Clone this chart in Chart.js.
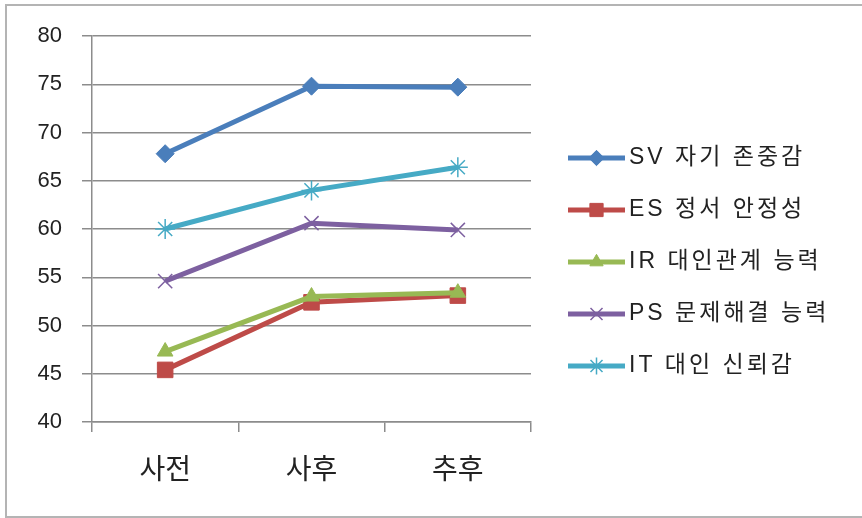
<!DOCTYPE html>
<html>
<head>
<meta charset="utf-8">
<script src="https://cdn.jsdelivr.net/npm/chart.js@4/dist/chart.umd.min.js"></script>
<style>
  html, body { margin: 0; padding: 0; background: #ffffff; overflow: hidden; }
  #wrap { width: 862px; height: 518px; position: relative; }
  canvas { display: block; }
</style>
</head>
<body>
<div id="wrap"><canvas id="c" width="862" height="518"></canvas></div>
<script>
// Measurement points
const categories = ['사전', '사후', '추후'];

// Series labels
const seriesNames = ['SV 자기 존중감', 'ES 정서 안정성', 'IR 대인관계 능력', 'PS 문제해결 능력', 'IT 대인 신뢰감'];

// Mean scores per series
const svValues = [67.8, 74.8, 74.7];
const esValues = [45.4, 52.4, 53.1];
const irValues = [47.3, 53.0, 53.4];
const psValues = [54.6, 60.6, 59.9];
const itValues = [60.0, 64.0, 66.4];

// Value axis range
const yMin = 40;
const yMax = 80;
const yStep = 5;

const seriesValues = [svValues, esValues, irValues, psValues, itValues];
const seriesColors = ['#4a7ebb', '#be4b48', '#98b954', '#7d60a0', '#46aac5'];
const markerStyles = ['rectRot', 'rect', 'triangle', 'crossRot', 'star'];
const markerRadius = [9, 11, 9, 10, 10];
const markerBorder = [1, 1, 1, 1.5, 1.5];

const gridColor = '#8c8c8c';
const textColor = '#222222';
const latinFont = '"Liberation Sans", Arial, sans-serif';
const koreanFont = '"Liberation Sans", "Noto Sans CJK KR", sans-serif';

const datasets = seriesNames.map((name, i) => ({
  label: name,
  data: seriesValues[i],
  borderColor: seriesColors[i],
  backgroundColor: seriesColors[i],
  borderWidth: 5,
  pointStyle: markerStyles[i],
  pointRadius: markerRadius[i],
  pointHoverRadius: markerRadius[i],
  pointBorderWidth: markerBorder[i],
  pointBorderColor: seriesColors[i],
  pointBackgroundColor: seriesColors[i],
  tension: 0,
  // later series are painted on top of earlier ones
  order: seriesNames.length - i
}));

// Frame around the whole chart (left, top and bottom edges)
const framePlugin = {
  id: 'frame',
  beforeDraw(chart) {
    const ctx = chart.ctx;
    ctx.save();
    ctx.fillStyle = '#ffffff';
    ctx.fillRect(0, 0, chart.width, chart.height);
    ctx.strokeStyle = '#b4b4b4';
    ctx.lineWidth = 2;
    ctx.beginPath();
    ctx.moveTo(chart.width + 2, 5);
    ctx.lineTo(6, 5);
    ctx.lineTo(6, 517);
    ctx.lineTo(chart.width + 2, 517);
    ctx.stroke();
    ctx.restore();
  }
};

// Legend: line segment with marker, then label
const sideLegendPlugin = {
  id: 'sideLegend',
  afterDraw(chart) {
    const ctx = chart.ctx;
    const x0 = 568, x1 = 625, textX = 629;
    const firstY = 158, rowGap = 52;
    ctx.save();
    chart.data.datasets.forEach((ds, i) => {
      const y = firstY + i * rowGap;
      ctx.strokeStyle = ds.borderColor;
      ctx.lineWidth = 5;
      ctx.lineCap = 'butt';
      ctx.beginPath();
      ctx.moveTo(x0, y);
      ctx.lineTo(x1, y);
      ctx.stroke();
      ctx.fillStyle = ds.pointBackgroundColor;
      ctx.strokeStyle = ds.pointBorderColor;
      ctx.lineWidth = ds.pointBorderWidth;
      Chart.helpers.drawPoint(ctx, {
        pointStyle: ds.pointStyle,
        radius: ds.pointRadius * 0.85,
        rotation: 0,
        borderWidth: ds.pointBorderWidth
      }, (x0 + x1) / 2, y);
      ctx.fillStyle = textColor;
      ctx.font = '23px ' + koreanFont;
      if ('letterSpacing' in ctx) ctx.letterSpacing = '3px';
      ctx.textBaseline = 'middle';
      ctx.textAlign = 'left';
      ctx.fillText(ds.label, textX, y);
    });
    ctx.restore();
  }
};

new Chart(document.getElementById('c'), {
  type: 'line',
  data: { labels: categories, datasets },
  plugins: [framePlugin, sideLegendPlugin],
  options: {
    responsive: false,
    animation: false,
    events: [],
    layout: { padding: { top: 36, right: 331, bottom: 0, left: 0 } },
    plugins: {
      legend: { display: false },
      tooltip: { enabled: false }
    },
    scales: {
      x: {
        type: 'category',
        offset: true,
        afterFit(scale) { scale.height = 96; },
        grid: {
          offset: true,
          drawOnChartArea: false,
          drawTicks: true,
          tickLength: 10,
          color: gridColor,
          lineWidth: 1.5
        },
        border: { display: true, color: gridColor, width: 1.5 },
        ticks: {
          padding: 20,
          color: textColor,
          font: { family: '"Noto Sans CJK KR", sans-serif', size: 28 },
          maxRotation: 0
        }
      },
      y: {
        min: yMin,
        max: yMax,
        afterFit(scale) { scale.width = 92; },
        grid: {
          color: gridColor,
          lineWidth: 1.5,
          tickLength: 10
        },
        border: { display: true, color: gridColor, width: 1.5 },
        ticks: {
          stepSize: yStep,
          padding: 20,
          color: textColor,
          font: { family: latinFont, size: 22 }
        }
      }
    }
  }
});
</script>
</body>
</html>
